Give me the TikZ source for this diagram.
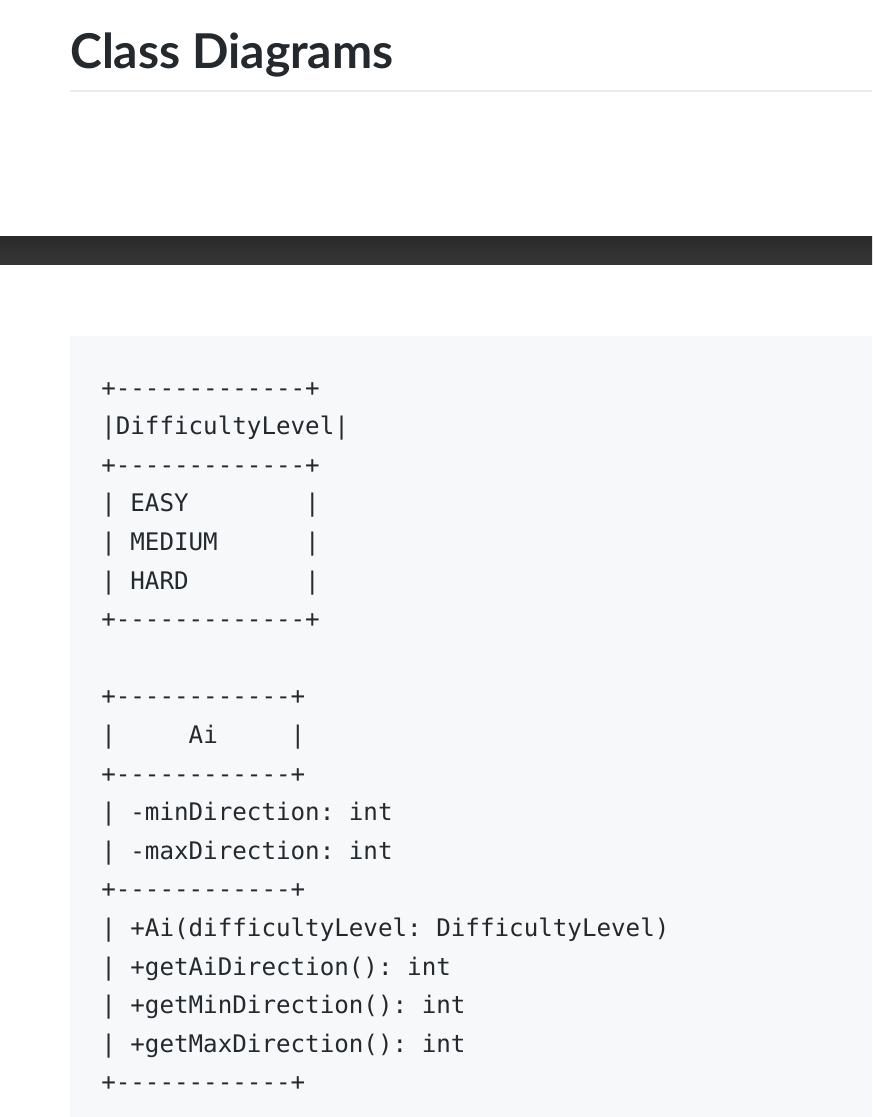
\documentclass[tikz,border=0pt]{standalone}
\usepackage{fontspec}
\setsansfont{Lato}
\setmonofont{DejaVu Sans Mono}
\definecolor{codefg}{HTML}{24292E}
\definecolor{codebg}{HTML}{F6F8FA}
\definecolor{rulegray}{HTML}{EAECEF}
\definecolor{bartop}{HTML}{2A2A2A}
\definecolor{barbot}{HTML}{363636}

\begin{document}
\begin{tikzpicture}[x=0.75pt, y=-0.75pt]
  \newcommand\linesp{38.6}
  \newcommand\codex{101}
  \newcommand\codey{396}

  \tikzset{codeline/.style={anchor=base west, inner sep=0pt, text=codefg,
      font=\ttfamily\fontsize{18.15}{20}\selectfont}}
  \tikzset{pagetitle/.style={anchor=base west, inner sep=0pt, text=codefg,
      font=\sffamily\bfseries\fontsize{36}{40}\selectfont}}

  \useasboundingbox (0, 0) rectangle (872, 1117);
  \fill[white] (0, 0) rectangle (872, 1117);

  % heading
  \node[pagetitle] (title) at (70, 68) {Class Diagrams};
  \coordinate (rule-l) at (70, 91);
  \coordinate (rule-r) at (872, 91);
  \draw[rulegray, line width=1.5pt] (rule-l) -- (rule-r);

  % dark bar
  \shade[top color=bartop, bottom color=barbot] (0, 236) rectangle (872, 264);

  % code block
  \fill[codebg] (70, 336) rectangle (872, 1117);
  \foreach \ln/\txt in {0/{+-------------+}, 1/{|DifficultyLevel|}, 2/{+-------------+},
      3/{|~EASY~~~~~~~~|}, 4/{|~MEDIUM~~~~~~|}, 5/{|~HARD~~~~~~~~|}, 6/{+-------------+},
      8/{+------------+}, 9/{|~~~~~Ai~~~~~|}, 10/{+------------+},
      11/{|~-minDirection:~int}, 12/{|~-maxDirection:~int}, 13/{+------------+},
      14/{|~+Ai(difficultyLevel:~DifficultyLevel)}, 15/{|~+getAiDirection():~int},
      16/{|~+getMinDirection():~int}, 17/{|~+getMaxDirection():~int}, 18/{+------------+}}{
    \node[codeline] (code\ln) at (\codex, \codey+\ln*\linesp) {\txt};
  }
\end{tikzpicture}
\end{document}
